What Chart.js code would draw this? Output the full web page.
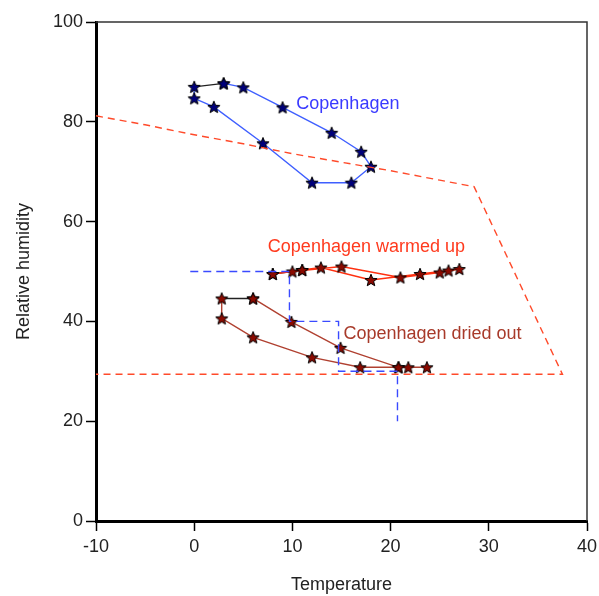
<!DOCTYPE html>
<html>
<head>
<meta charset="utf-8">
<script src="https://cdn.jsdelivr.net/npm/chart.js@4/dist/chart.umd.min.js"></script>
<style>
  body { margin: 0; background: #fff; }
  #wrap { width: 599px; height: 596px; }
</style>
</head>
<body>
<div id="wrap"><canvas id="chart" width="599" height="596"></canvas></div>
<script>
// months go Dec, Jan ... Dec so the first (closing) segment is the black one
const months = ['Dec', 'Jan', 'Feb', 'Mar', 'Apr', 'May', 'Jun', 'Jul', 'Aug', 'Sep', 'Oct', 'Nov', 'Dec'];
const cphTemp = [3, 0, 0, 2, 7, 12, 16, 18, 17, 14, 9, 5, 3];
const cphHum = [87.7, 87, 84.7, 83, 75.7, 67.8, 67.8, 71, 74, 77.8, 82.9, 86.9, 87.7];
const warmTemp = [11, 8, 8, 10, 15, 21, 25, 27, 25.9, 23, 18, 12.9, 11];
const warmHum = [50.3, 49.5, 49.5, 50, 51, 48.8, 49.8, 50.5, 50.2, 49.5, 48.3, 50.8, 50.3];
const dryTemp = [6, 2.8, 2.8, 6, 12, 16.9, 20.8, 23.7, 21.8, 20.8, 14.9, 9.9, 6];
const dryHum = [44.6, 44.6, 40.6, 36.8, 32.8, 30.8, 30.8, 30.8, 30.8, 30.8, 34.7, 39.9, 44.6];
// comfort zone outline
const zoneTemp = [-10, -5, 0, 5, 10, 15, 20, 25, 28.5, 37.5, -10];
const zoneHum = [81.2, 79.4, 77.4, 75.6, 73.6, 71.9, 70.2, 68.3, 67, 29.4, 29.4];
// steps of the treatment path
const stepTemp = [-0.4, 9.7, 9.7, 14.7, 14.7, 20.7, 20.7];
const stepHum = [50, 50, 40, 40, 30, 30, 20];
const xTicks = [-10, 0, 10, 20, 30, 40];
const yTicks = [0, 20, 40, 60, 80, 100];

function pts(xs, ys) {
    let out = [];
    for (let i = 0; i < xs.length; i++) out.push({x: xs[i], y: ys[i]});
    return out;
}

function makeStar(fill) {
    let c = document.createElement('canvas');
    c.width = 14; c.height = 14;
    let g = c.getContext('2d');
    g.beginPath();
    for (let i = 0; i < 10; i++) {
        let r = i % 2 ? 2.8 : 6.4;
        let a = -Math.PI / 2 + i * Math.PI / 5;
        let px = 7 + r * Math.cos(a), py = 7.6 + r * Math.sin(a);
        if (i == 0) g.moveTo(px, py); else g.lineTo(px, py);
    }
    g.closePath();
    g.fillStyle = fill;
    g.fill();
    g.lineWidth = 1;
    g.strokeStyle = '#000';
    g.stroke();
    return c;
}

const blueStar = makeStar('#00007a');
const redStar = makeStar('#8a0a00');

function loopSet(name, xs, ys, color, star) {
    return {
        label: name,
        data: pts(xs, ys),
        showLine: true,
        borderColor: color,
        borderWidth: 1.4,
        pointStyle: star,
        pointRadius: 7,
        segment: {
            borderColor: c => c.p0DataIndex == 0 ? '#222' : color
        }
    };
}

const font = {family: '"Liberation Sans", Arial, sans-serif', size: 18};

const labelPlugin = {
    id: 'labels',
    afterDatasetsDraw(chart) {
        const c = chart.ctx, xs = chart.scales.x, ys = chart.scales.y;
        const items = [
            ['Copenhagen', 10.4, 83.6, '#3a3aff'],
            ['Copenhagen warmed up', 7.5, 54.9, '#ff3a1e'],
            ['Copenhagen dried out', 15.2, 37.5, '#a83a2a']
        ];
        c.save();
        c.font = '18px "Liberation Sans", Arial, sans-serif';
        c.textBaseline = 'middle';
        c.textAlign = 'left';
        items.forEach(t => {
            c.fillStyle = t[3];
            c.fillText(t[0], xs.getPixelForValue(t[1]), ys.getPixelForValue(t[2]));
        });
        c.restore();
    }
};

const framePlugin = {
    id: 'frame',
    afterDraw(chart) {
        const a = chart.chartArea, c = chart.ctx;
        c.save();
        c.strokeStyle = '#333';
        c.lineWidth = 1.5;
        c.beginPath();
        c.moveTo(a.left, a.top);
        c.lineTo(a.right, a.top);
        c.lineTo(a.right, a.bottom);
        c.stroke();
        c.restore();
    }
};

new Chart(document.getElementById('chart'), {
    type: 'scatter',
    data: {
        datasets: [
            {
                label: 'zone',
                data: pts(zoneTemp, zoneHum),
                showLine: true,
                borderColor: '#ff4a2a',
                borderWidth: 1.4,
                borderDash: [7, 5],
                pointRadius: 0
            },
            {
                label: 'steps',
                data: pts(stepTemp, stepHum),
                showLine: true,
                borderColor: '#3a4aff',
                borderWidth: 1.4,
                borderDash: [8, 5],
                pointRadius: 0
            },
            loopSet('Copenhagen', cphTemp, cphHum, '#3f5fff', blueStar),
            loopSet('Copenhagen warmed up', warmTemp, warmHum, '#ff3010', redStar),
            loopSet('Copenhagen dried out', dryTemp, dryHum, '#b04030', redStar)
        ]
    },
    options: {
        responsive: false,
        animation: false,
        clip: false,
        layout: {padding: {top: 22, right: 12, left: 13, bottom: 0}},
        plugins: {legend: {display: false}, tooltip: {enabled: false}},
        scales: {
            x: {
                type: 'linear',
                min: -10, max: 40,
                afterFit: s => { s.height = 75; s.paddingLeft = 0; s.paddingRight = 0; },
                afterBuildTicks: s => { s.ticks = xTicks.map(v => ({value: v})); },
                ticks: {color: '#222', font: font, padding: 5},
                grid: {drawOnChartArea: false, tickLength: 10, tickColor: '#000', tickWidth: 1.5},
                border: {color: '#000', width: 3},
                title: {display: true, text: 'Temperature', color: '#222', font: font, padding: {top: 4, bottom: 0}}
            },
            y: {
                type: 'linear',
                min: 0, max: 100,
                afterFit: s => { s.width = 83; s.paddingTop = 0; s.paddingBottom = 0; },
                afterBuildTicks: s => { s.ticks = yTicks.map(v => ({value: v})); },
                ticks: {color: '#222', font: font, padding: 3},
                grid: {drawOnChartArea: false, tickLength: 10, tickColor: '#000', tickWidth: 1.5},
                border: {color: '#000', width: 3},
                title: {display: true, text: 'Relative humidity', color: '#222', font: font, padding: 0}
            }
        }
    },
    plugins: [labelPlugin, framePlugin]
});
</script>
</body>
</html>
